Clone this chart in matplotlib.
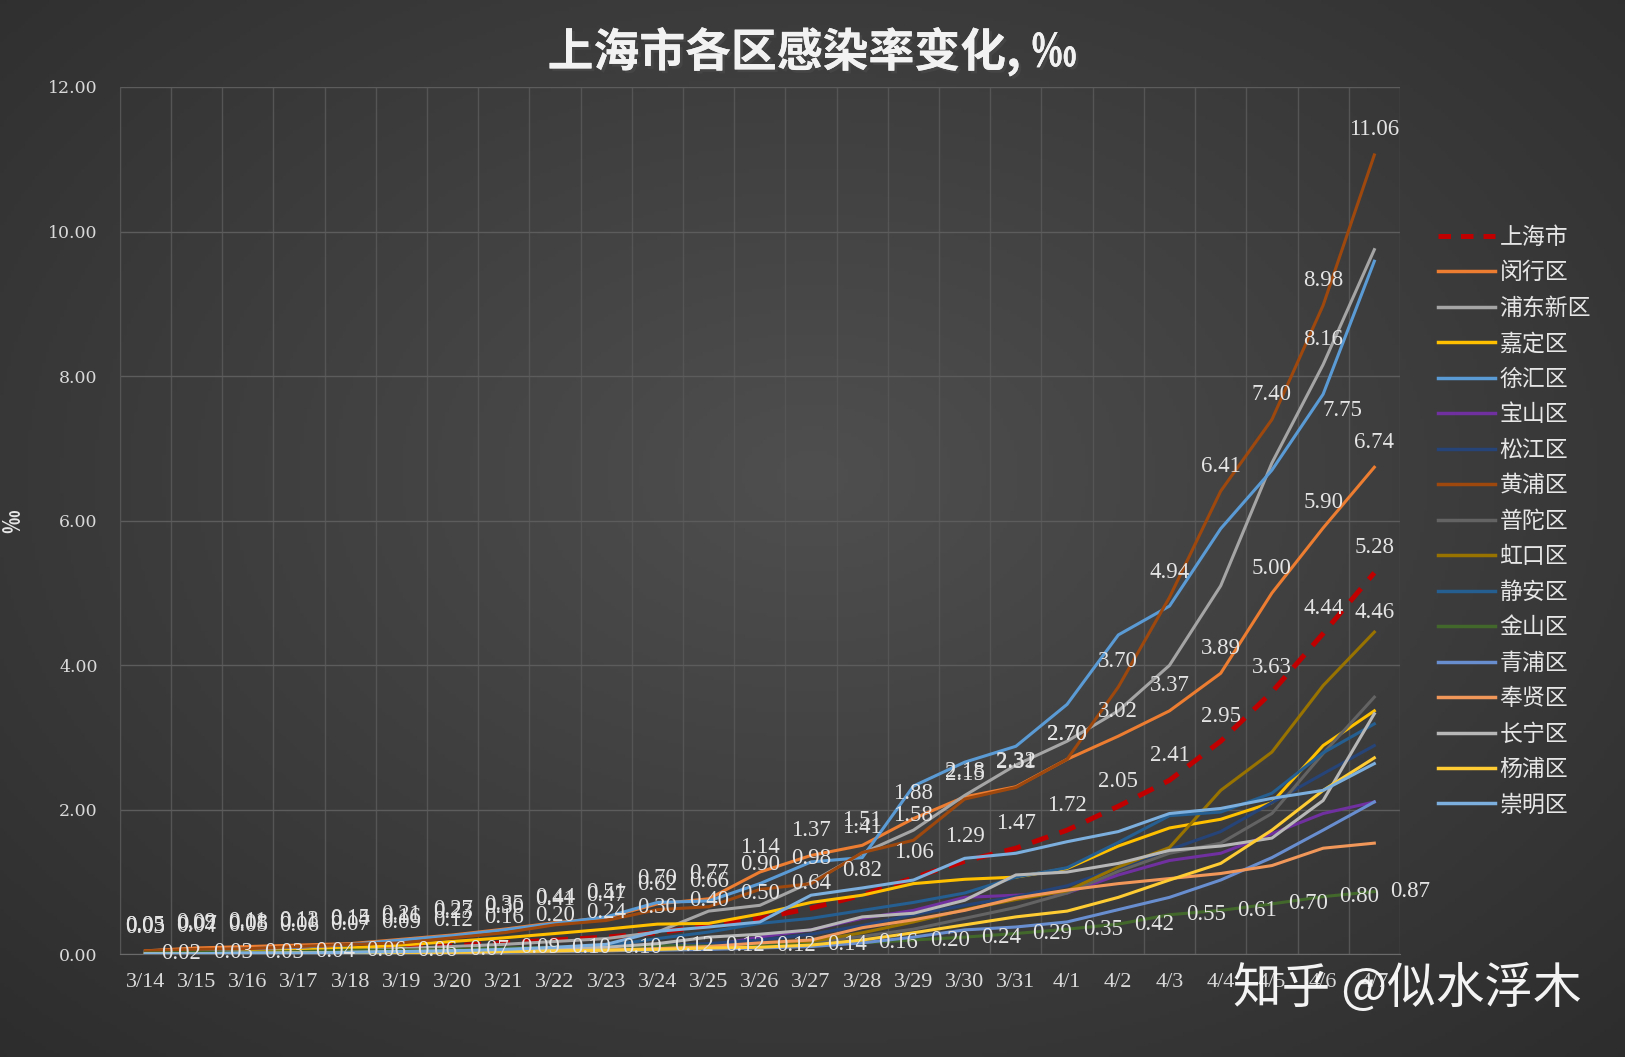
import numpy as np
import matplotlib.pyplot as plt
import matplotlib.patheffects as pe
from matplotlib.lines import Line2D

plt.rcParams['font.family'] = ['Noto Sans CJK SC', 'DejaVu Sans']

dates = ["3/14", "3/15", "3/16", "3/17", "3/18", "3/19", "3/20", "3/21", "3/22", "3/23",
         "3/24", "3/25", "3/26", "3/27", "3/28", "3/29", "3/30", "3/31", "4/1", "4/2",
         "4/3", "4/4", "4/5", "4/6", "4/7"]

shanghai = [0.03, 0.04, 0.05, 0.06, 0.07, 0.09, 0.12, 0.16, 0.20, 0.24, 0.30, 0.40, 0.50,
            0.64, 0.82, 1.06, 1.29, 1.47, 1.72, 2.05, 2.41, 2.95, 3.63, 4.44, 5.28]
minhang = [0.05, 0.09, 0.11, 0.13, 0.15, 0.21, 0.27, 0.35, 0.44, 0.51, 0.70, 0.77, 1.14,
           1.37, 1.51, 1.88, 2.18, 2.32, 2.70, 3.02, 3.37, 3.89, 5.00, 5.90, 6.74]
pudong = [0.02, 0.03, 0.04, 0.05, 0.06, 0.08, 0.11, 0.14, 0.18, 0.22, 0.31, 0.60, 0.68,
          1.00, 1.40, 1.72, 2.20, 2.62, 2.95, 3.37, 4.00, 5.10, 6.80, 8.16, 9.75]
jiading = [0.02, 0.03, 0.04, 0.06, 0.09, 0.13, 0.18, 0.23, 0.29, 0.35, 0.42, 0.43, 0.56,
           0.72, 0.82, 0.98, 1.04, 1.07, 1.19, 1.50, 1.75, 1.87, 2.10, 2.89, 3.37]
xuhui = [0.04, 0.06, 0.08, 0.10, 0.14, 0.20, 0.26, 0.34, 0.43, 0.52, 0.72, 0.74, 0.98,
         1.28, 1.34, 2.33, 2.66, 2.88, 3.46, 4.42, 4.82, 5.89, 6.70, 7.75, 9.59]
baoshan = [0.01, 0.01, 0.01, 0.02, 0.02, 0.03, 0.03, 0.04, 0.05, 0.06, 0.08, 0.12, 0.24,
           0.34, 0.50, 0.61, 0.79, 0.82, 0.85, 1.10, 1.30, 1.40, 1.67, 1.95, 2.11]
songjiang = [0.01, 0.01, 0.01, 0.02, 0.02, 0.03, 0.04, 0.05, 0.06, 0.08, 0.12, 0.15, 0.20,
             0.28, 0.40, 0.55, 0.68, 0.80, 0.95, 1.20, 1.45, 1.70, 2.10, 2.50, 2.89]
huangpu = [0.05, 0.07, 0.08, 0.11, 0.14, 0.16, 0.23, 0.30, 0.41, 0.47, 0.62, 0.66, 0.90,
           0.98, 1.41, 1.58, 2.15, 2.31, 2.70, 3.70, 4.94, 6.41, 7.40, 8.98, 11.06]
putuo = [0.01, 0.01, 0.01, 0.01, 0.02, 0.02, 0.03, 0.04, 0.05, 0.06, 0.08, 0.10, 0.13,
         0.17, 0.25, 0.35, 0.50, 0.65, 0.85, 1.15, 1.40, 1.54, 1.95, 2.78, 3.56]
hongkou = [0.01, 0.01, 0.01, 0.01, 0.02, 0.02, 0.03, 0.03, 0.04, 0.05, 0.07, 0.09, 0.12,
           0.18, 0.30, 0.45, 0.62, 0.76, 0.88, 1.21, 1.48, 2.27, 2.80, 3.72, 4.46]
jingan = [0.01, 0.01, 0.02, 0.02, 0.03, 0.04, 0.05, 0.07, 0.09, 0.12, 0.22, 0.31, 0.43,
          0.50, 0.61, 0.72, 0.85, 1.07, 1.20, 1.55, 1.92, 1.97, 2.23, 2.79, 3.19]
jinshan = [0.02, 0.03, 0.03, 0.04, 0.06, 0.06, 0.07, 0.09, 0.10, 0.10, 0.12, 0.12, 0.12,
           0.14, 0.16, 0.20, 0.24, 0.29, 0.35, 0.42, 0.55, 0.61, 0.70, 0.80, 0.87]
qingpu = [0.00, 0.00, 0.01, 0.01, 0.01, 0.02, 0.02, 0.03, 0.04, 0.05, 0.06, 0.07, 0.09,
          0.11, 0.16, 0.24, 0.34, 0.38, 0.45, 0.62, 0.79, 1.03, 1.34, 1.72, 2.11]
fengxian = [0.01, 0.01, 0.01, 0.02, 0.02, 0.03, 0.03, 0.04, 0.05, 0.06, 0.08, 0.11, 0.16,
            0.20, 0.37, 0.48, 0.61, 0.78, 0.89, 0.98, 1.05, 1.12, 1.23, 1.47, 1.54]
changning = [0.01, 0.01, 0.02, 0.02, 0.03, 0.04, 0.05, 0.06, 0.08, 0.10, 0.15, 0.24, 0.28,
             0.34, 0.52, 0.57, 0.75, 1.10, 1.14, 1.26, 1.44, 1.50, 1.61, 2.13, 3.33]
yangpu = [0.01, 0.01, 0.01, 0.02, 0.02, 0.03, 0.03, 0.04, 0.05, 0.06, 0.07, 0.09, 0.10,
          0.13, 0.20, 0.30, 0.41, 0.52, 0.60, 0.79, 1.03, 1.26, 1.72, 2.27, 2.72]
chongming = [0.01, 0.01, 0.02, 0.02, 0.03, 0.04, 0.05, 0.07, 0.10, 0.14, 0.32, 0.38, 0.45,
             0.82, 0.92, 1.03, 1.33, 1.40, 1.56, 1.70, 1.95, 2.02, 2.16, 2.27, 2.64]

series = [
    ("上海市", shanghai, "#C00000"),
    ("闵行区", minhang, "#ED7D31"),
    ("浦东新区", pudong, "#A5A5A5"),
    ("嘉定区", jiading, "#FFC000"),
    ("徐汇区", xuhui, "#5B9BD5"),
    ("宝山区", baoshan, "#7030A0"),
    ("松江区", songjiang, "#264478"),
    ("黄浦区", huangpu, "#9E480E"),
    ("普陀区", putuo, "#636363"),
    ("虹口区", hongkou, "#997300"),
    ("静安区", jingan, "#255E91"),
    ("金山区", jinshan, "#43682B"),
    ("青浦区", qingpu, "#698ED0"),
    ("奉贤区", fengxian, "#F1975A"),
    ("长宁区", changning, "#B7B7B7"),
    ("杨浦区", yangpu, "#FFCD33"),
    ("崇明区", chongming, "#7CAFDD"),
]

fig = plt.figure(figsize=(16.25, 10.57), dpi=100)

# dark radial background
bg = fig.add_axes([0, 0, 1, 1], zorder=-10)
yy, xx = np.mgrid[0:1:300j, 0:1:460j]
r = np.sqrt(((xx - 0.5) / 0.75) ** 2 + ((yy - 0.45) / 0.8) ** 2)
shade = np.clip(0.31 - 0.14 * r, 0.15, 0.31)
bg.imshow(np.dstack([shade, shade, shade]), aspect="auto", extent=[0, 1, 0, 1])
bg.axis("off")

ax = fig.add_axes([0.0737, 0.097, 0.7878, 0.8207])
ax.set_facecolor("none")
x = np.arange(len(dates))

for name, vals, col in series:
    if name == "上海市":
        ax.plot(x, vals, color=col, lw=3.6, ls=(0, (3.4, 2.4)), label=name, zorder=2)
    else:
        ax.plot(x, vals, color=col, lw=2.2, label=name, zorder=3)

lab_kw = dict(fontsize=16.5, color="#e4e4e4", family="Liberation Serif",
              textcoords="offset points", ha="center", va="center", zorder=6)
for vals in (shanghai, minhang, huangpu):
    for i, v in enumerate(vals):
        ax.annotate(f"{v:.2f}", (x[i], v), xytext=(0, 18), **lab_kw)
for i, v in enumerate(jinshan):
    ax.annotate(f"{v:.2f}", (x[i], v), xytext=(26, 0), **lab_kw)
ax.annotate(f"{pudong[23]:.2f}", (x[23], pudong[23]), xytext=(0, 18), **lab_kw)
ax.annotate(f"{xuhui[23]:.2f}", (x[23], xuhui[23]), xytext=(14, -12), **lab_kw)
ax.annotate(f"{hongkou[24]:.2f}", (x[24], hongkou[24]), xytext=(0, 14), **lab_kw)

ax.set_xlim(-0.5, len(dates) - 0.5)
ax.set_ylim(0, 12)
ax.set_yticks(np.arange(0, 12.01, 2))
ax.set_yticklabels([f"{t:.2f}" for t in np.arange(0, 12.01, 2)],
                   family="DejaVu Serif", fontsize=12.5, color="#d9d9d9")
ax.set_xticks(x)
ax.set_xticklabels(dates, family="Liberation Serif", fontsize=16, color="#d9d9d9")
ax.set_xticks(np.arange(-0.5, len(dates), 1), minor=True)
ax.tick_params(axis="x", which="both", length=0, pad=13)
ax.tick_params(axis="y", which="both", length=0, pad=16)
ax.grid(True, axis="y", color="#5c5c5c", lw=1)
ax.grid(True, axis="x", which="minor", color="#555555", lw=1)
for s in ["top", "right"]:
    ax.spines[s].set_visible(False)
ax.spines["left"].set_color("#555555")
ax.spines["bottom"].set_color("#6a6a6a")

ax.set_ylabel("‰", fontsize=17, fontweight="bold", color="#e6e6e6")
ax.yaxis.set_label_coords(-0.074, 0.5)

fig.text(0.5, 0.951, "上海市各区感染率变化, ‰", ha="center", va="center",
         fontsize=33, fontweight="bold", color="#f2f2f2",
         path_effects=[pe.withSimplePatchShadow(offset=(2, -2), alpha=0.7), pe.Normal()])

handles = [Line2D([0], [0], color=c, lw=3.6 if n == "上海市" else 2.5,
                  ls=(0, (2.5, 2)) if n == "上海市" else "-") for n, _, c in series]
leg = fig.legend(handles, [n for n, _, _ in series], loc="upper left",
                 bbox_to_anchor=(0.872, 0.806), frameon=False, fontsize=16.5,
                 handlelength=2.5, labelspacing=0.545, handletextpad=0.2)
for t in leg.get_texts():
    t.set_color("#e6e6e6")

fig.text(0.866, 0.064, "知乎 @似水浮木", ha="center", va="center", fontsize=35,
         color="#ffffff", alpha=0.95)

fig.savefig("out.png", dpi=100)
